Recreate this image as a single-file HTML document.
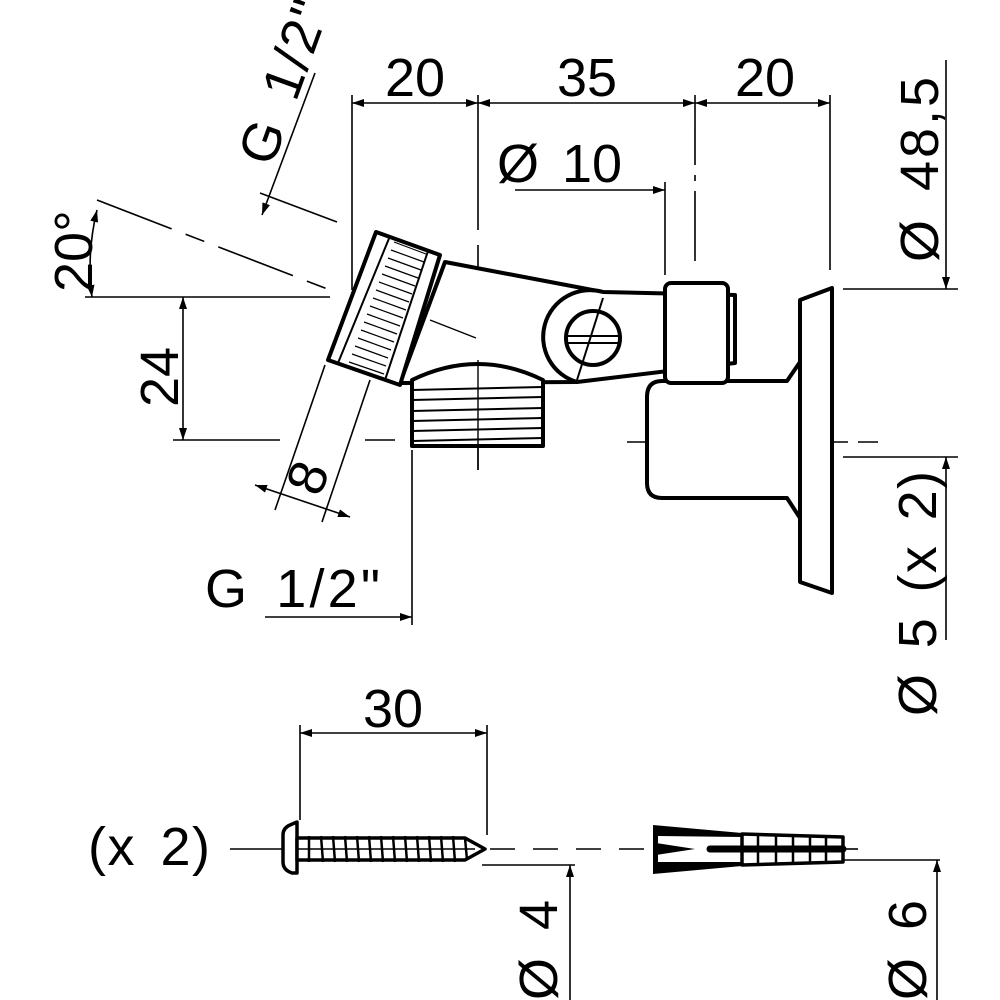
<!DOCTYPE html>
<html><head><style>html,body{margin:0;padding:0;background:#fff}svg{display:block}</style></head>
<body>
<svg width="1000" height="1000" viewBox="0 0 1000 1000" xmlns="http://www.w3.org/2000/svg" font-family="Liberation Sans, Arial, sans-serif">
<defs>
<marker id="a" viewBox="0 0 12 8" refX="12" refY="4" markerWidth="12" markerHeight="8" markerUnits="userSpaceOnUse" orient="auto-start-reverse"><path d="M0,0 L12,4 L0,8z" fill="#000"/></marker>
</defs>
<g stroke="#000" stroke-width="1.6" fill="none">
<line x1="352" y1="95" x2="352" y2="290"/>
<line x1="478" y1="95" x2="478" y2="230"/>
<line x1="478" y1="245" x2="478" y2="470" stroke-dasharray="60 10 6 10"/>
<line x1="695" y1="95" x2="695" y2="270" stroke-dasharray="70 10 6 10"/>
<line x1="830" y1="95" x2="830" y2="270"/>
<line x1="352" y1="103" x2="478" y2="103" marker-start="url(#a)" marker-end="url(#a)"/>
<line x1="478" y1="103" x2="695" y2="103" marker-start="url(#a)" marker-end="url(#a)"/>
<line x1="695" y1="103" x2="830" y2="103" marker-start="url(#a)" marker-end="url(#a)"/>
<line x1="515" y1="190" x2="665" y2="190" marker-end="url(#a)"/>
<line x1="665" y1="182" x2="665" y2="275"/>
<line x1="946" y1="60" x2="946" y2="289" marker-end="url(#a)"/>
<line x1="843" y1="289" x2="958" y2="289"/>
<line x1="946" y1="640" x2="946" y2="457" marker-end="url(#a)"/>
<line x1="843" y1="457" x2="958" y2="457"/>
<line x1="627" y1="442" x2="720" y2="442"/>
<line x1="738" y1="442" x2="880" y2="442" stroke-dasharray="20 10"/>
<line x1="695" y1="400" x2="695" y2="460"/>
<line x1="85" y1="297" x2="330" y2="297"/>
<line x1="97" y1="200" x2="330" y2="290" stroke-dasharray="80 15 20 15"/>
<path d="M97,210 A240,240 0 0 0 92,297" marker-start="url(#a)" marker-end="url(#a)"/>
<line x1="183" y1="297" x2="183" y2="440" marker-start="url(#a)" marker-end="url(#a)"/>
<line x1="173" y1="440" x2="280" y2="440"/>
<line x1="365" y1="440" x2="395" y2="440"/>
<line x1="315" y1="73" x2="262" y2="215" marker-end="url(#a)"/>
<line x1="260" y1="193" x2="337" y2="222"/>
<line x1="325" y1="365" x2="275" y2="510"/>
<line x1="370" y1="380" x2="322" y2="522"/>
<line x1="255" y1="485" x2="350" y2="517" marker-start="url(#a)" marker-end="url(#a)"/>
<line x1="412" y1="450" x2="412" y2="625"/>
<line x1="265" y1="617" x2="412" y2="617" marker-end="url(#a)"/>
</g>
<g stroke="#000" stroke-width="4" fill="#fff" stroke-linejoin="round">
<path d="M647,397 Q647,381 662,381 L787,381 L800,362 L800,518 L787,498 L662,498 Q647,498 647,483 Z"/>
<polygon points="800,300 832,288 832,593 800,582"/>
<path d="M445,262 L603,292 L735,295 L735,363 L577,382 L400,383 Z"/>
<path d="M412,380 Q478,348 543,380 L543,446 L412,446 Z"/>
<path d="M577,382 A40,40 0 0 1 603,292" />
<circle cx="593" cy="338" r="27"/>
<rect x="665" y="283" width="63" height="100" rx="6"/>
<polygon points="376,232 440,255 400,385 328,360"/>
</g>
<g stroke="#000" stroke-width="2" fill="none">
<line x1="390" y1="236" x2="338" y2="363"/>
<line x1="428" y1="251" x2="385" y2="380"/>
<line x1="568" y1="336" x2="618" y2="336"/><line x1="568" y1="343" x2="618" y2="343"/>
<line x1="603" y1="298" x2="577" y2="380"/>
<line x1="412" y1="390" x2="543" y2="387"/><line x1="412" y1="400" x2="543" y2="397"/>
<line x1="412" y1="411" x2="543" y2="408"/><line x1="412" y1="421" x2="543" y2="418"/>
<line x1="412" y1="431" x2="543" y2="428"/><line x1="412" y1="441" x2="543" y2="438"/>
<line x1="478" y1="360" x2="478" y2="470" stroke-width="1.4"/>
<line x1="430" y1="320" x2="476" y2="338" stroke-width="1.4"/>
</g>
<g stroke="#000" stroke-width="1.2">
<line x1="394" y1="242" x2="426" y2="254"/><line x1="391" y1="250" x2="424" y2="262"/><line x1="388" y1="258" x2="421" y2="270"/><line x1="385" y1="266" x2="418" y2="278"/><line x1="382" y1="274" x2="415" y2="286"/><line x1="379" y1="282" x2="412" y2="294"/><line x1="376" y1="290" x2="409" y2="302"/><line x1="373" y1="298" x2="406" y2="310"/><line x1="370" y1="306" x2="403" y2="318"/><line x1="367" y1="314" x2="400" y2="326"/><line x1="364" y1="322" x2="397" y2="334"/><line x1="361" y1="330" x2="394" y2="342"/><line x1="358" y1="338" x2="391" y2="350"/><line x1="355" y1="346" x2="388" y2="358"/><line x1="352" y1="354" x2="386" y2="366"/><line x1="349" y1="362" x2="384" y2="374"/>
</g>
<g stroke="#000" stroke-width="1.6" fill="none">
<line x1="300" y1="725" x2="300" y2="820"/>
<line x1="487" y1="725" x2="487" y2="835"/>
<line x1="300" y1="733" x2="487" y2="733" marker-start="url(#a)" marker-end="url(#a)"/>
<line x1="230" y1="849" x2="290" y2="849"/>
<line x1="490" y1="849" x2="650" y2="849" stroke-dasharray="25 18"/>
<line x1="843" y1="849" x2="858" y2="849"/>
<line x1="482" y1="865" x2="575" y2="865"/>
<line x1="570" y1="1000" x2="570" y2="865" marker-end="url(#a)"/>
<line x1="840" y1="860" x2="940" y2="860"/>
<line x1="937" y1="1000" x2="937" y2="860" marker-end="url(#a)"/>
</g>
<g stroke="#000" stroke-width="3.5" fill="#fff" stroke-linejoin="round">
<path d="M297,822 L290,825 Q283,828 283,835 L283,862 Q283,870 292,873 L297,873 Z"/>
<path d="M297,838 L465,838 L485,849 L465,860 L297,860 Z"/>
<path d="M742,834 L843,837 L843,862 L742,865 Z"/>
</g>
<g stroke="#000" stroke-width="2.5">
<line x1="309" y1="836" x2="309" y2="862"/><line x1="321" y1="836" x2="323" y2="862"/><line x1="333" y1="836" x2="335" y2="862"/><line x1="345" y1="836" x2="347" y2="862"/><line x1="357" y1="836" x2="359" y2="862"/><line x1="369" y1="836" x2="371" y2="862"/><line x1="381" y1="836" x2="383" y2="862"/><line x1="393" y1="836" x2="395" y2="862"/><line x1="405" y1="836" x2="407" y2="862"/><line x1="417" y1="836" x2="419" y2="862"/><line x1="429" y1="836" x2="431" y2="862"/><line x1="441" y1="836" x2="443" y2="862"/><line x1="453" y1="836" x2="455" y2="862"/><line x1="465" y1="838" x2="467" y2="860"/>
<line x1="297" y1="849" x2="475" y2="849" stroke-width="1.4"/>
<line x1="758" y1="834" x2="758" y2="865"/><line x1="776" y1="835" x2="776" y2="864"/><line x1="793" y1="835" x2="793" y2="864"/><line x1="810" y1="836" x2="810" y2="863"/><line x1="826" y1="836" x2="826" y2="863"/>
</g>
<!-- dowel left body -->
<path d="M653,825 L742,833 L742,837 L658,836 L658,862 L742,862 L742,866 L653,874 Z" fill="#000"/>
<path d="M656,843 L695,849 L656,855 Z" fill="#000"/>
<line x1="710" y1="849" x2="843" y2="849" stroke="#000" stroke-width="7" stroke-linecap="round"/>
<line x1="742" y1="833" x2="742" y2="866" stroke="#000" stroke-width="2"/>
<g font-size="54" fill="#000" word-spacing="8">
<text x="415" y="96" text-anchor="middle">20</text>
<text x="587" y="96" text-anchor="middle">35</text>
<text x="765" y="96" text-anchor="middle">20</text>
<text x="497" y="182">Ø 10</text>
<text transform="translate(938,262) rotate(-90)" textLength="185">Ø 48,5</text>
<text transform="translate(936,716) rotate(-90)" textLength="245">Ø 5 (x 2)</text>
<text transform="translate(92,292) rotate(-90)">20°</text>
<text transform="translate(178,407) rotate(-90)">24</text>
<text transform="translate(272,168) rotate(-70)" textLength="170">G 1/2"</text>
<text transform="translate(325,484) rotate(-70)" text-anchor="middle">8</text>
<text x="205" y="607" textLength="175">G 1/2"</text>
<text x="393" y="727" text-anchor="middle">30</text>
<text x="88" y="865" textLength="122">(x 2)</text>
<text transform="translate(557,1000) rotate(-90)" textLength="100">Ø 4</text>
<text transform="translate(926,1000) rotate(-90)" textLength="100">Ø 6</text>
</g>
</svg>
</body></html>
